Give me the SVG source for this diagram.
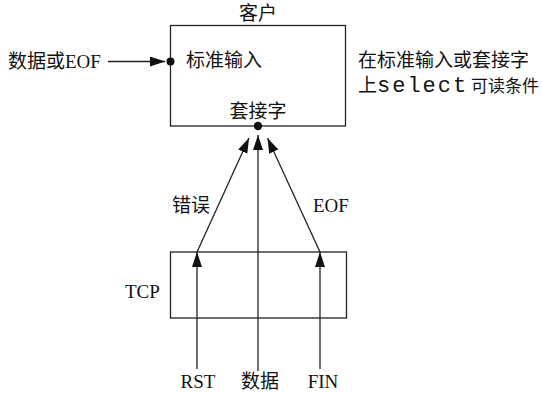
<svg xmlns="http://www.w3.org/2000/svg" width="542" height="393" viewBox="0 0 542 393">
<style>
  .t { font-family: "Liberation Serif", "Noto Sans CJK SC", serif; font-size: 19px; fill: #111; }
  .m { font-family: "Liberation Mono", monospace; font-size: 22px; letter-spacing: 2px; fill: #111; }
  .s { font-size: 17px; }
  .box { fill: none; stroke: #222; stroke-width: 1.3; }
  .ln { fill: none; stroke: #222; stroke-width: 1.3; }
  .dot { fill: #111; }
</style>
<defs>
  <marker id="ah" markerUnits="userSpaceOnUse" markerWidth="16" markerHeight="12" refX="15" refY="5" orient="auto">
    <path d="M0,0 L15,5 L0,10 Z" fill="#111"/>
  </marker>
</defs>
<rect width="542" height="393" fill="#fff"/>
<g id="client">
  <rect class="box" x="170.5" y="25.5" width="175" height="100.5"/>
  <text class="t" x="258" y="20" text-anchor="middle">客户</text>
  <text class="t" x="186" y="67">标准输入</text>
  <text class="t" x="258" y="118" text-anchor="middle">套接字</text>
  <circle class="dot" cx="170.5" cy="61.5" r="4"/>
  <circle class="dot" cx="258" cy="126" r="4.2"/>
</g>
<g id="tcp">
  <rect class="box" x="170.5" y="252" width="176" height="66"/>
  <text class="t" x="125" y="298">TCP</text>
</g>
<g id="note">
  <text class="t" x="358" y="67">在标准输入或套接字</text>
  <text class="t" x="358" y="92">上<tspan class="m" x="377">select</tspan><tspan class="s" x="471">可读条件</tspan></text>
</g>
<g id="input-label">
  <text class="t" x="8" y="68">数据或EOF</text>
</g>
<g id="bottom-labels">
  <text class="t" x="198" y="388" text-anchor="middle">RST</text>
  <text class="t" x="260" y="388" text-anchor="middle">数据</text>
  <text class="t" x="323" y="388" text-anchor="middle">FIN</text>
  <text class="t" x="172" y="212">错误</text>
  <text class="t" x="313" y="212">EOF</text>
</g>
<g id="connectors">
  <line class="ln" x1="108" y1="61.5" x2="165" y2="61.5" marker-end="url(#ah)"/>
  <line class="ln" x1="197" y1="369" x2="197" y2="252" marker-end="url(#ah)"/>
  <line class="ln" x1="197" y1="252" x2="249" y2="138" marker-end="url(#ah)"/>
  <line class="ln" x1="258" y1="371" x2="258" y2="135" marker-end="url(#ah)"/>
  <line class="ln" x1="320" y1="369" x2="320" y2="252" marker-end="url(#ah)"/>
  <line class="ln" x1="320" y1="252" x2="267.5" y2="138" marker-end="url(#ah)"/>
</g>
</svg>
